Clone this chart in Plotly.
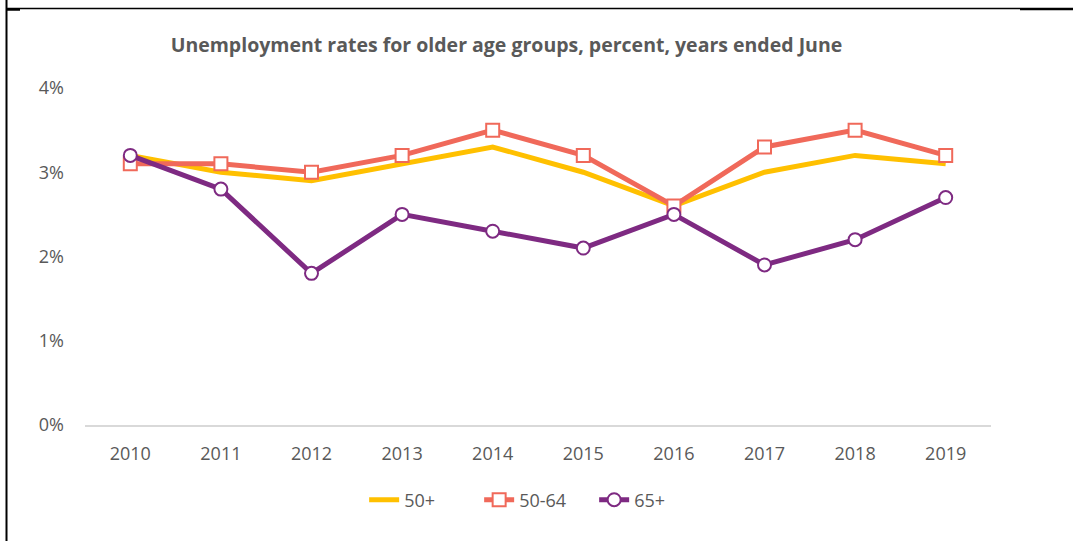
import plotly.graph_objects as go

# Unemployment rates (%) for older age groups, years ended June
years = ["2010", "2011", "2012", "2013", "2014", "2015", "2016", "2017", "2018", "2019"]
rate_50_plus = [3.2, 3.0, 2.9, 3.1, 3.3, 3.0, 2.6, 3.0, 3.2, 3.1]
rate_50_64 = [3.1, 3.1, 3.0, 3.2, 3.5, 3.2, 2.6, 3.3, 3.5, 3.2]
rate_65_plus = [3.2, 2.8, 1.8, 2.5, 2.3, 2.1, 2.5, 1.9, 2.2, 2.7]
y_ticks = [0, 1, 2, 3, 4]
y_tick_labels = ["0%", "1%", "2%", "3%", "4%"]

W, H = 1073, 541
L, R, T, B = 85, 82, 88, 116
PW, PH = W - L - R, H - T - B

YELLOW = "#FFC000"
CORAL = "#F0695A"
PURPLE = "#7E2A82"
GREY = "#595959"
FONT = "'Open Sans', sans-serif"

fig = go.Figure()
fig.add_trace(go.Scatter(
    x=years, y=rate_50_plus, name="50+", mode="lines",
    line=dict(color=YELLOW, width=5),
))
fig.add_trace(go.Scatter(
    x=years, y=rate_50_64, name="50-64", mode="lines+markers",
    line=dict(color=CORAL, width=5),
    marker=dict(symbol="square", size=13, color="white", line=dict(color=CORAL, width=2)),
))
fig.add_trace(go.Scatter(
    x=years, y=rate_65_plus, name="65+", mode="lines+markers",
    line=dict(color=PURPLE, width=5),
    marker=dict(symbol="circle", size=13, color="white", line=dict(color=PURPLE, width=2)),
))


def px_x(px):
    return (px - L) / PW


def px_y(py):
    return (H - B - py) / PH


# Frame lines around the chart panel
shapes = [
    dict(type="line", xref="paper", yref="paper", x0=px_x(6.5), x1=px_x(6.5),
         y0=px_y(0), y1=px_y(H), line=dict(color="black", width=2)),
    dict(type="line", xref="paper", yref="paper", x0=px_x(6), x1=px_x(1020),
         y0=px_y(8.5), y1=px_y(8.5), line=dict(color="black", width=1.5)),
    dict(type="line", xref="paper", yref="paper", x0=px_x(1020), x1=px_x(W),
         y0=px_y(9), y1=px_y(9), line=dict(color="black", width=2.5)),
    dict(type="line", xref="paper", yref="paper", x0=px_x(6), x1=px_x(20),
         y0=px_y(9.5), y1=px_y(9.5), line=dict(color="black", width=2.5)),
]

fig.update_layout(
    width=W, height=H,
    margin=dict(l=L, r=R, t=T, b=B),
    paper_bgcolor="white", plot_bgcolor="white",
    font=dict(family=FONT, color=GREY, size=18),
    title=dict(
        text="<b>Unemployment rates for older age groups, percent, years ended June</b>",
        x=0.472, xanchor="center", y=1 - 45 / H, yanchor="middle",
        font=dict(family=FONT, size=19.5, color=GREY),
    ),
    xaxis=dict(
        type="category", range=[-0.5, 9.5], showgrid=False,
        showline=True, linecolor="#D9D9D9", linewidth=1.5,
        ticks="", tickfont=dict(size=18, color=GREY), ticklabelstandoff=12,
    ),
    yaxis=dict(
        range=[0, 4], tickvals=y_ticks, ticktext=y_tick_labels,
        showgrid=False, zeroline=False, showline=False,
        ticks="", tickfont=dict(size=18, color=GREY), ticklabelstandoff=20,
    ),
    legend=dict(
        orientation="h", x=0.4985, xanchor="center", y=1 - 500 / H, yanchor="middle",
        yref="container", font=dict(size=18, color=GREY),
        entrywidth=70, tracegroupgap=0,
    ),
    showlegend=True,
    shapes=shapes,
)

fig.write_html("out.html")
